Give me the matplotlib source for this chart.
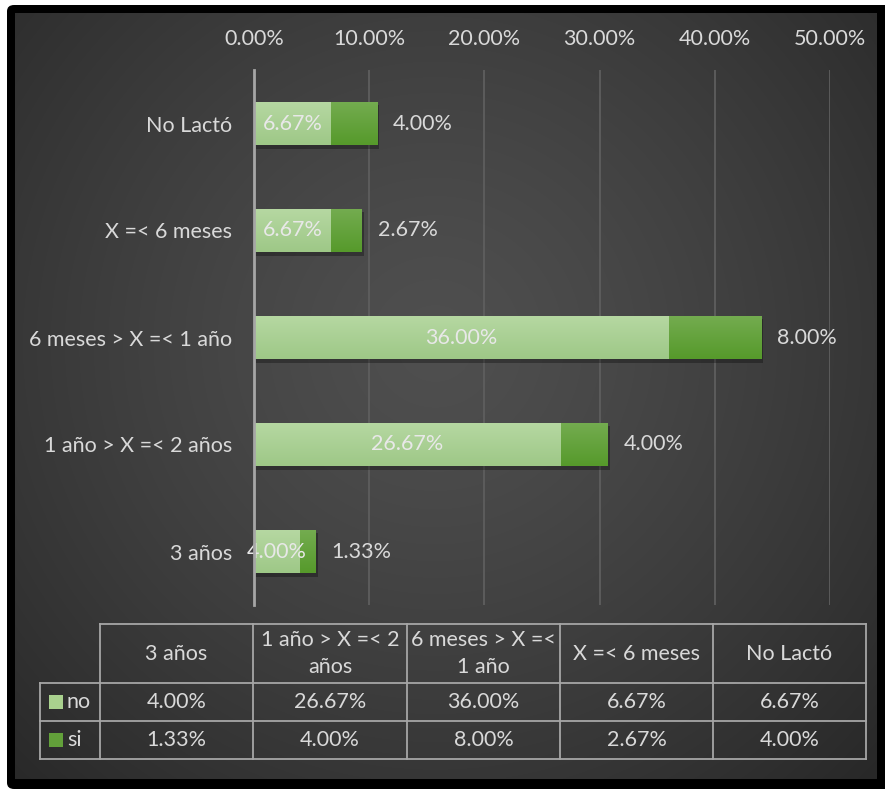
import numpy as np
import matplotlib
matplotlib.use("Agg")
import matplotlib.pyplot as plt
from matplotlib.patches import Rectangle, FancyBboxPatch
from matplotlib.colors import LinearSegmentedColormap

plt.rcParams['font.family'] = ['Lato', 'DejaVu Sans']

# datos: porcentaje por tiempo de lactancia
categorias = ["3 años", "1 año > X =< 2 años", "6 meses > X =< 1 año", "X =< 6 meses", "No Lactó"]
cat_tabla = ["3 años", "1 año > X =< 2\naños", "6 meses > X =<\n1 año", "X =< 6 meses", "No Lactó"]
serie_no = [4.00, 26.67, 36.00, 6.67, 6.67]
serie_si = [1.33, 4.00, 8.00, 2.67, 4.00]
series = ["no", "si"]
colores = ["#a9d18e", "#62a03a"]
degradados = [("#9ec887", "#b6d8a2"), ("#569a2b", "#74ac50")]
ticks = [0, 10, 20, 30, 40, 50]

W, H = 885, 789
fs = 15.5
fig = plt.figure(figsize=(W / 100, H / 100), dpi=100, facecolor="white")
txt = "#d9d9d9"


def fx(px):
    return px / W


def fy(py):
    return 1 - py / H


# marco negro y fondo con degradado radial
fig.patches.append(FancyBboxPatch((fx(7), 0), fx(W + 20) - fx(7), fy(5),
                                  boxstyle="round,pad=0,rounding_size=0.008",
                                  transform=fig.transFigure, facecolor="black",
                                  edgecolor="none", zorder=0))
bg = fig.add_axes([fx(15), fy(779), fx(877) - fx(15), fy(13) - fy(779)], zorder=0.5)
yy, xx = np.mgrid[0:766, 0:862]
r = np.hypot(xx - 420, yy - 330) / 640
g = np.clip(0.31 - 0.16 * r ** 1.3, 0.14, 0.31)
bg.imshow(np.dstack([g, g, g]), aspect="auto", extent=[0, 1, 0, 1])
bg.axis("off")

# grafico de barras apiladas
ax = fig.add_axes([fx(254), fy(605), fx(830) - fx(254), fy(70) - fy(605)], zorder=1)
ax.patch.set_alpha(0)
y = np.arange(len(categorias))
alto = 0.41
b_no = ax.barh(y, [v / 100 for v in serie_no], height=alto, color=colores[0], zorder=3)
b_si = ax.barh(y, [v / 100 for v in serie_si], left=[v / 100 for v in serie_no],
               height=alto, color=colores[1], zorder=3)

# degradado vertical dentro de cada barra
grad = np.linspace(0, 1, 64).reshape(-1, 1)
for barras, (c0, c1) in zip([b_no, b_si], degradados):
    cmap = LinearSegmentedColormap.from_list("g", [c0, c1])
    for rect in barras:
        x0, y0 = rect.get_x(), rect.get_y()
        im = ax.imshow(grad, cmap=cmap, aspect="auto", origin="lower", zorder=3.5,
                       extent=[x0, x0 + rect.get_width(), y0, y0 + rect.get_height()])
        im.set_clip_path(rect)

for i, (a, b) in enumerate(zip(serie_no, serie_si)):
    # sombra de la barra
    ax.add_patch(Rectangle((0.002, i - alto / 2 - 0.03), (a + b) / 100, alto,
                           facecolor="black", alpha=0.3, edgecolor="none", zorder=2))
    ax.text(a / 200, i, f"{a:.2f}%", ha="center", va="center", color="#e8e8e8",
            fontsize=fs, zorder=4)
    ax.text((a + b) / 100 + 0.014, i, f"{b:.2f}%", ha="left", va="center", color=txt,
            fontsize=fs, zorder=4)

ax.set_xlim(0, 0.5)
ax.set_ylim(-0.5, len(categorias) - 0.5)
ax.set_xticks([t / 100 for t in ticks])
ax.set_xticklabels([f"{t:.2f}%" for t in ticks])
ax.set_yticks(y)
ax.set_yticklabels(categorias)
ax.xaxis.tick_top()
ax.tick_params(axis="x", length=0, pad=15, labelsize=fs, labelcolor=txt)
ax.tick_params(axis="y", length=0, pad=16, labelsize=fs, labelcolor=txt)
ax.grid(axis="x", color="#5e5e5e", lw=1.3, zorder=1)
for s in ["top", "right", "bottom"]:
    ax.spines[s].set_visible(False)
ax.spines["left"].set_color("#a6a6a6")
ax.spines["left"].set_linewidth(2)
ax.spines["left"].set_zorder(5)

# tabla de datos
col_x = [100, 253, 407, 560, 713, 866]
fila_y = [624, 683, 721, 759]
lc = "#a6a6a6"
lw = 1.3


def linea(x0, y0, x1, y1):
    fig.add_artist(plt.Line2D([fx(x0), fx(x1)], [fy(y0), fy(y1)], color=lc, lw=lw, zorder=3))


for yl in fila_y:
    linea(col_x[0] if yl == fila_y[0] else 40, yl, col_x[-1], yl)
for xl in col_x:
    linea(xl, fila_y[0], xl, fila_y[-1])
linea(40, fila_y[1], 40, fila_y[-1])

for j, cat in enumerate(cat_tabla):
    xc = (col_x[j] + col_x[j + 1]) / 2
    fig.text(fx(xc), fy((fila_y[0] + fila_y[1]) / 2), cat, ha="center", va="center",
             color=txt, fontsize=fs, linespacing=1.45, zorder=4)
    for k, vals in enumerate([serie_no, serie_si]):
        fig.text(fx(xc), fy((fila_y[k + 1] + fila_y[k + 2]) / 2), f"{vals[j]:.2f}%",
                 ha="center", va="center", color=txt, fontsize=fs, zorder=4)

for k, (nom, c) in enumerate(zip(series, colores)):
    yc = (fila_y[k + 1] + fila_y[k + 2]) / 2
    fig.patches.append(Rectangle((fx(49), fy(yc + 7)), fx(14), fy(0) - fy(14),
                                 transform=fig.transFigure, facecolor=c,
                                 edgecolor="none", zorder=4))
    fig.text(fx(67), fy(yc), nom, ha="left", va="center", color=txt, fontsize=fs, zorder=4)

fig.savefig("out.png", dpi=100, facecolor="white")
